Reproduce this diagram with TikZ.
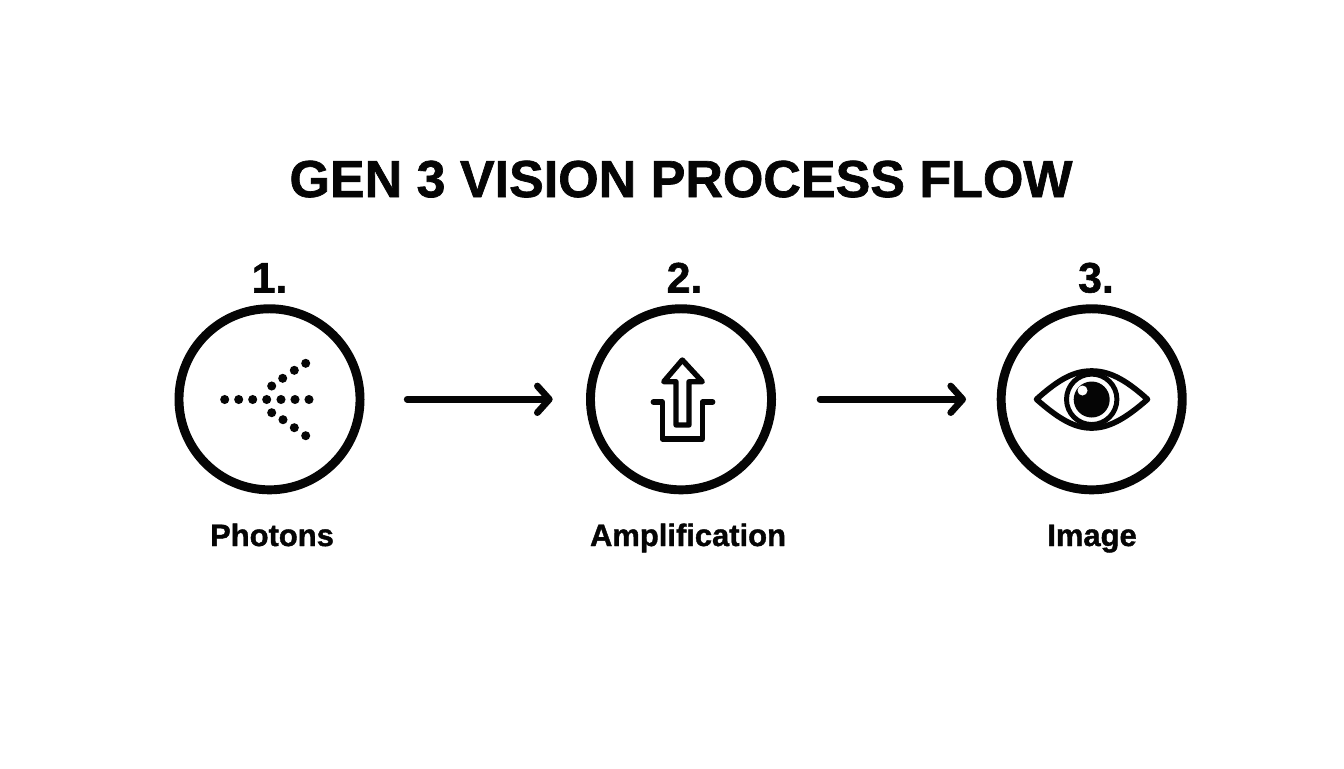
\documentclass[tikz,border=0pt]{standalone}
\usepackage{fontspec}
\setmainfont{Liberation Sans}
\newfontfamily\heavyfont[BoldFont={Liberation Sans Bold},BoldFeatures={FakeBold=1.3}]{Liberation Sans}
\usetikzlibrary{arrows.meta}
\definecolor{ink}{HTML}{050505}
\tikzset{x=0.75pt,y=-0.75pt,
  ring/.style={circle,draw=ink,line width=6.7pt,minimum size=135.8pt,inner sep=0pt},
  flow/.style={draw=ink,line width=5pt,line cap=round,line join=round,yshift=-0.5pt,-{Straight Barb[round,length=9pt,width=20pt,line width=5pt]}},
  icon/.style={draw=ink,line width=4pt,line cap=round,line join=round},
  photon/.style={circle,fill=ink,minimum size=6.8pt,inner sep=0pt},
  titletext/.style={font=\heavyfont\bfseries\fontsize{39}{45}\selectfont,text=ink,anchor=base},
  numtext/.style={font=\heavyfont\bfseries\fontsize{32}{36}\selectfont,text=ink,anchor=base},
  captext/.style={font=\heavyfont\bfseries\fontsize{23.2}{28}\selectfont,text=ink,anchor=base}}
\begin{document}
\begin{tikzpicture}
\useasboundingbox (0,0) rectangle (1344,768);
\fill[white] (0,0) rectangle (1344,768);
\node[titletext] (t) at (681,197) {GEN 3 VISION PROCESS FLOW};
\node[numtext] (n1) at (269.5,292.5) {1.};
\node[numtext] (n2) at (684.5,292.5) {2.};
\node[numtext] (n3) at (1096,292.5) {3.};
\node[ring] (c1) at (269.5,399.3) {};
\node[ring] (c2) at (681,399.3) {};
\node[ring] (c3) at (1091.7,399.3) {};
\node[captext] (l1) at (272,546) {Photons};
\node[captext] (l2) at (688,546) {Amplification};
\node[captext] (l3) at (1092,546) {Image};
% connectors
\draw[flow,shorten <=32pt,shorten >=25pt] (c1.east) -- (c2.west);
\draw[flow,shorten <=33pt,shorten >=23pt] (c2.east) -- (c3.west);
% photons icon
\foreach \i/\x/\y in {a/224.7/399.5,b/238.7/399.5,c/252.7/399.5,d/266.7/399.5,e/281/399.5,f/295/399.5,g/309/399.5,
  h/271.7/386,i/282.7/378.3,j/294.3/370.3,k/305.7/363.3,
  l/271.7/412.7,m/283/419.7,n/294.3/427.7,o/305.7/435.7}
  \node[photon] (p\i) at (\x,\y) {};
% amplification icon
\draw[icon] (676,425) -- (676,381.7) -- (663.7,381.7) -- (682.3,360) -- (702.3,381.7) -- (689,381.7) -- (689,425) -- cycle;
\draw[icon] (653.3,402) -- (662.3,402) -- (662.3,439) -- (702.3,439) -- (702.3,402) -- (712.7,402);
% eye icon
\draw[icon,line width=4.2pt] (1036.5,399.3) .. controls (1060,378) and (1075,371) .. (1091.7,371)
  .. controls (1108,371) and (1124,378) .. (1147.5,399.3)
  .. controls (1124,420) and (1108,428) .. (1091.7,428)
  .. controls (1075,428) and (1060,420) .. cycle;
\draw[icon,line width=3.7pt] (1091.7,399.3) circle[radius=25.2];
\fill[ink] (1091.7,399.5) circle[radius=18];
\fill[white] (1082.5,390.5) circle[radius=5];
\end{tikzpicture}
\end{document}
